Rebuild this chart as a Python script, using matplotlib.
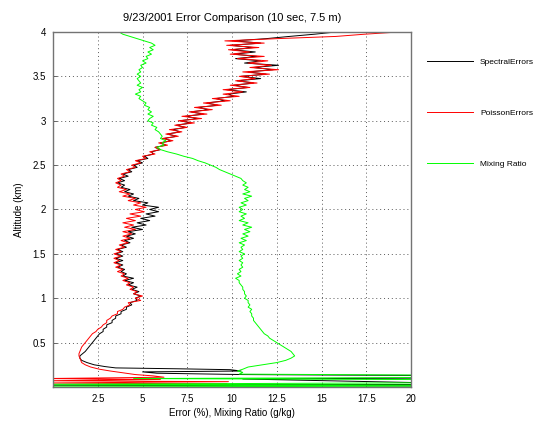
import numpy as np
import matplotlib
matplotlib.use("Agg")
import matplotlib.pyplot as plt

plt.rcParams.update({
    "font.family": ["Liberation Sans", "DejaVu Sans"],
    "font.size": 7,
})

# altitude grid (km), 4.0 down to 0.3 in 25 m steps
alt_hi = np.round(np.arange(4.0, 0.2999, -0.025), 3)

spectral_hi = [
    15.8, 14.6, 13.2, 11.9, 10.1, 11.6, 9.9, 11.2, 10.0, 11.3,
    10.1, 11.4, 10.2, 11.6, 10.7, 12.6, 11.2, 12.3, 10.9, 11.9,
    10.5, 11.6, 10.3, 11.2, 10.1, 10.9, 9.7, 10.8, 9.8, 10.1,
    9.1, 9.6, 8.6, 9.2, 8.1, 8.7, 7.7, 8.4, 7.4, 8.1,
    7.1, 7.7, 6.9, 7.4, 6.7, 7.1, 6.4, 6.9, 6.2, 6.6,
    6.0, 6.3, 5.7, 6.0, 5.5, 5.6, 5.1, 5.3, 4.7, 5.0,
    4.5, 4.7, 4.2, 4.4, 3.9, 4.2, 3.7, 4.0, 3.6, 4.0,
    3.8, 4.3, 4.0, 4.5, 4.2, 4.8, 4.5, 5.3, 5.0, 5.9,
    5.4, 5.9, 5.2, 5.7, 4.9, 5.4, 4.7, 5.2, 4.4, 5.0,
    4.2, 4.6, 4.1, 4.5, 4.0, 4.3, 3.8, 4.1, 3.6, 3.9,
    3.5, 3.9, 3.5, 3.9, 3.5, 3.9, 3.6, 4.0, 3.8, 4.1,
    3.9, 4.5, 4.0, 4.5, 4.2, 4.7, 4.4, 4.8, 4.5, 4.9,
    4.6, 4.7, 4.3, 4.4, 4.1, 4.1, 3.8, 3.8, 3.5, 3.5,
    3.3, 3.3, 3.0, 3.0, 2.8, 2.8, 2.6, 2.5, 2.4, 2.3,
    2.2, 2.1, 2.0, 1.9, 1.8, 1.65, 1.5, 1.5, 1.6,
]
poisson_hi = [
    19.3, 17.4, 15.8, 12.5, 9.6, 11.8, 9.7, 11.5, 9.8, 11.0,
    9.9, 11.8, 10.3, 12.0, 10.9, 12.2, 11.0, 12.6, 10.6, 12.1,
    10.4, 11.3, 10.2, 11.4, 9.9, 11.0, 9.5, 10.6, 9.5, 10.4,
    8.9, 9.9, 8.4, 9.4, 7.9, 8.9, 7.6, 8.6, 7.2, 8.3,
    7.0, 7.9, 6.8, 7.5, 6.5, 7.2, 6.3, 7.0, 6.1, 6.7,
    5.9, 6.4, 5.7, 6.0, 5.4, 5.7, 5.0, 5.2, 4.6, 4.9,
    4.4, 4.6, 4.1, 4.3, 3.8, 4.0, 3.6, 3.8, 3.5, 3.8,
    3.6, 4.1, 3.7, 4.3, 3.9, 4.6, 4.2, 4.9, 4.5, 5.2,
    4.6, 5.1, 4.3, 4.9, 4.1, 4.6, 3.9, 4.5, 4.0, 4.6,
    3.9, 4.4, 3.9, 4.3, 3.8, 4.2, 3.7, 4.0, 3.5, 3.8,
    3.4, 3.8, 3.4, 3.7, 3.4, 3.8, 3.5, 3.9, 3.6, 4.0,
    3.8, 4.2, 3.9, 4.3, 4.1, 4.5, 4.3, 4.7, 4.5, 5.0,
    4.6, 4.9, 4.2, 4.3, 4.0, 3.9, 3.6, 3.6, 3.3, 3.2,
    3.0, 3.0, 2.8, 2.7, 2.5, 2.4, 2.2, 2.1, 2.0, 1.9,
    1.8, 1.7, 1.6, 1.55, 1.5, 1.45, 1.45, 1.5, 1.55,
]
mixing_hi = [
    3.7, 3.9, 4.3, 4.7, 5.1, 5.5, 5.7, 5.4, 5.6, 5.3,
    5.5, 5.2, 5.3, 5.0, 5.2, 4.9, 5.0, 4.8, 4.9, 4.7,
    4.9, 4.7, 4.8, 4.9, 4.7, 5.0, 4.8, 4.9, 4.6, 4.9,
    4.8, 5.0, 5.2, 5.1, 5.4, 5.3, 5.5, 5.3, 5.6, 5.4,
    5.3, 5.6, 5.5, 5.8, 5.7, 5.9, 6.0, 6.1, 6.0, 6.3,
    6.1, 6.2, 5.8, 6.0, 6.4, 6.9, 7.3, 7.8, 8.1, 8.5,
    8.8, 9.1, 9.3, 9.6, 9.9, 10.2, 10.5, 10.6, 10.8, 10.6,
    10.9, 10.7, 11.0, 10.6, 11.1, 10.7, 10.9, 10.5, 10.8, 10.4,
    10.6, 10.4, 10.8, 10.5, 10.7, 10.4, 10.9, 10.6, 11.1, 10.7,
    11.0, 10.6, 10.9, 10.5, 10.8, 10.4, 10.7, 10.5, 10.6, 10.4,
    10.7, 10.5, 10.6, 10.4, 10.6, 10.5, 10.6, 10.4, 10.5, 10.3,
    10.5, 10.2, 10.4, 10.4, 10.5, 10.6, 10.6, 10.7, 10.7, 10.8,
    10.7, 10.9, 10.9, 11.0, 10.9, 11.1, 11.0, 11.1, 11.1, 11.2,
    11.2, 11.3, 11.4, 11.5, 11.6, 11.7, 11.8, 12.0, 12.1, 12.3,
    12.5, 12.7, 12.9, 13.1, 13.3, 13.4, 13.5, 13.3, 13.0,
]

# lowest range gates, where the profiles blow up
alt_spectral_lo = [0.275, 0.25, 0.23, 0.215, 0.205, 0.195, 0.18, 0.17, 0.155,
                   0.14, 0.125, 0.105, 0.09, 0.03, 0.02, 0.01]
spectral_lo = [1.9, 2.3, 2.9, 3.5, 7.0, 9.9, 10.5, 5.0, 5.8,
               10.6, 25.0, 25.0, 10.6, 25.0, -1.0, 25.0]
alt_poisson_lo = [0.275, 0.25, 0.225, 0.2, 0.18, 0.16, 0.14, 0.125, 0.11,
                  0.095, 0.085, 0.07, 0.06, 0.045, 0.035]
poisson_lo = [1.6, 1.8, 2.1, 2.6, 3.2, 3.9, 4.6, 5.6, 6.2,
              -0.5, 6.0, -0.5, 9.8, -0.5, 9.7]
alt_mixing_lo = [0.275, 0.25, 0.225, 0.2, 0.18, 0.165, 0.145, 0.13, 0.11,
                 0.095, 0.08, 0.05, 0.03, 0.02, 0.01, 0.0]
mixing_lo = [12.5, 11.7, 10.9, 10.6, 10.3, 10.6, 10.4, 25.0, 25.0,
             4.5, 25.0, 25.0, -1.0, 25.0, -1.0, 25.0]

alt_spectral = np.concatenate([alt_hi, alt_spectral_lo])
alt_poisson = np.concatenate([alt_hi, alt_poisson_lo])
alt_mixing = np.concatenate([alt_hi, alt_mixing_lo])
spectral = np.concatenate([spectral_hi, spectral_lo])
poisson = np.concatenate([poisson_hi, poisson_lo])
mixing = np.concatenate([mixing_hi, mixing_lo])

x_ticks = [2.5, 5, 7.5, 10, 12.5, 15, 17.5, 20]
y_ticks = [0.5, 1, 1.5, 2, 2.5, 3, 3.5, 4]

fig = plt.figure(figsize=(5.54, 4.21), dpi=100)
ax = fig.add_axes([0.0957, 0.0808, 0.6462, 0.8432])

ax.plot(spectral, alt_spectral, color="black", linewidth=0.7, label="SpectralErrors")
ax.plot(poisson, alt_poisson, color="#ff0000", linewidth=0.7, label="PoissonErrors")
ax.plot(mixing, alt_mixing, color="#00ff00", linewidth=0.7, label="Mixing Ratio")

ax.set_xlim(0, 20)
ax.set_ylim(0, 4)
ax.set_xticks(x_ticks)
ax.set_xticklabels(["2.5", "5", "7.5", "10", "12.5", "15", "17.5", "20"])
ax.set_yticks(y_ticks)
ax.set_yticklabels(["0.5", "1", "1.5", "2", "2.5", "3", "3.5", "4"])
ax.tick_params(direction="in", length=3, width=0.6, color="0.3", labelsize=7, pad=5)
ax.grid(True, linestyle=(0, (1, 3)), color="0.35", linewidth=0.7)
for s in ax.spines.values():
    s.set_color("0.45")
    s.set_linewidth(1.0)

ax.set_title("9/23/2001 Error Comparison (10 sec, 7.5 m)", fontsize=8, pad=8)
ax.set_xlabel("Error (%), Mixing Ratio (g/kg)", fontsize=7, labelpad=3)
ax.set_ylabel("Altitude (km)", fontsize=7, labelpad=6)

fig.legend(loc="upper left", bbox_to_anchor=(0.771, 0.861), frameon=False,
           fontsize=6, handlelength=5.5, handletextpad=0.85, labelspacing=5.15,
           borderpad=0, borderaxespad=0)

fig.savefig("out.png", dpi=100)
plt.close(fig)
